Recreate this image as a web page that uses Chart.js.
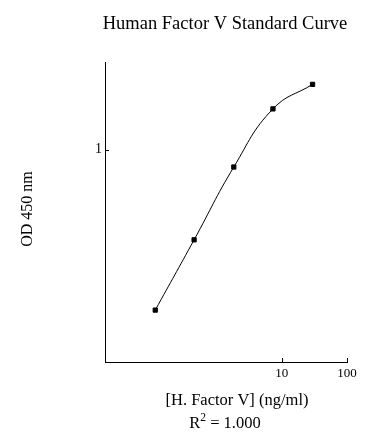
<!DOCTYPE html>
<html>
<head>
<meta charset="utf-8">
<title>Human Factor V Standard Curve</title>
<script src="https://cdn.jsdelivr.net/npm/chart.js@4/dist/chart.umd.min.js"></script>
<style>
    html, body { margin: 0; padding: 0; background: #fff; }
    canvas { display: block; }
</style>
</head>
<body>
<canvas id="curveChart" width="388" height="444"></canvas>
<script>
// Standard points (ng/ml vs OD 450 nm)
const concentrations = [0.114, 0.45, 1.83, 7.3, 29.6];
const odValues = [0.109, 0.288, 0.788, 1.76, 2.47];
const xTickValues = [10, 100];
const yTickValues = [1];

const chartTitle = 'Human Factor V Standard Curve';
const xTitle = '[H. Factor V] (ng/ml)';
const fitLabel = 'R';
const fitPower = '2';
const fitValue = ' = 1.000';
const yTitle = 'OD 450 nm';

const SERIF = "'Liberation Serif', 'Times New Roman', serif";
const TICK_LEN = 4;

// Tick marks point into the plot, like the original
const innerTicksPlugin = {
    id: 'innerTicks',
    afterDraw(chart) {
        const ctx = chart.ctx;
        const area = chart.chartArea;
        const xs = chart.scales.x;
        const ys = chart.scales.y;
        ctx.save();
        ctx.strokeStyle = '#000';
        ctx.lineWidth = 1;
        ctx.beginPath();
        xTickValues.forEach(v => {
            const px = Math.round(xs.getPixelForValue(v)) + 0.5;
            ctx.moveTo(px, area.bottom);
            ctx.lineTo(px, area.bottom - TICK_LEN);
        });
        yTickValues.forEach(v => {
            const py = Math.round(ys.getPixelForValue(v)) + 0.5;
            ctx.moveTo(area.left, py);
            ctx.lineTo(area.left + TICK_LEN, py);
        });
        ctx.stroke();
        ctx.restore();
    }
};

// Title and axis captions at fixed spots around the plot area
const captionPlugin = {
    id: 'captions',
    afterDraw(chart) {
        const ctx = chart.ctx;
        const area = chart.chartArea;
        ctx.save();
        ctx.fillStyle = '#000';
        ctx.textAlign = 'center';
        ctx.textBaseline = 'middle';

        ctx.font = `18.5px ${SERIF}`;
        ctx.fillText(chartTitle, 225, 24);

        ctx.font = `16.5px ${SERIF}`;
        ctx.fillText(xTitle, 237, area.bottom + 39);

        // R² line with a real superscript
        const bigFont = `16.5px ${SERIF}`;
        const smallFont = `11.5px ${SERIF}`;
        ctx.font = bigFont;
        const wR = ctx.measureText(fitLabel).width;
        const wV = ctx.measureText(fitValue).width;
        ctx.font = smallFont;
        const wP = ctx.measureText(fitPower).width;
        let x = 225 - (wR + wP + wV) / 2;
        const y = area.bottom + 62;
        ctx.textAlign = 'left';
        ctx.font = bigFont;
        ctx.fillText(fitLabel, x, y);
        x += wR;
        ctx.font = smallFont;
        ctx.fillText(fitPower, x, y - 6);
        x += wP;
        ctx.font = bigFont;
        ctx.fillText(fitValue, x, y);

        ctx.textAlign = 'center';
        ctx.font = `16px ${SERIF}`;
        ctx.translate(28, 209);
        ctx.rotate(-Math.PI / 2);
        ctx.fillText(yTitle, 0, 0);
        ctx.restore();
    }
};

function onlyTicks(values) {
    return scale => {
        scale.ticks = values.map(v => ({ value: v }));
    };
}

new Chart(document.getElementById('curveChart').getContext('2d'), {
    type: 'line',
    data: {
        datasets: [{
            data: concentrations.map((c, i) => ({ x: c, y: odValues[i] })),
            borderColor: '#000',
            borderWidth: 1,
            tension: 0.45,
            pointStyle: 'rect',
            pointRadius: 3,
            pointBorderWidth: 1,
            pointBackgroundColor: '#000',
            pointBorderColor: '#000'
        }]
    },
    options: {
        responsive: false,
        animation: false,
        devicePixelRatio: 1,
        layout: {
            padding: { left: 0, right: 41, top: 62, bottom: 0 }
        },
        plugins: {
            legend: { display: false },
            tooltip: { enabled: false }
        },
        scales: {
            x: {
                type: 'logarithmic',
                min: 0.0193,
                max: 100,
                afterBuildTicks: onlyTicks(xTickValues),
                afterFit: scale => { scale.height = 82; },
                border: { display: true, color: '#000', width: 1 },
                grid: { drawOnChartArea: false, drawTicks: false },
                ticks: {
                    color: '#000',
                    padding: 4,
                    maxRotation: 0,
                    autoSkip: false,
                    font: { family: SERIF, size: 13 },
                    callback: v => String(v)
                }
            },
            y: {
                type: 'logarithmic',
                min: 0.0532,
                max: 3.365,
                afterBuildTicks: onlyTicks(yTickValues),
                afterFit: scale => { scale.width = 105; },
                border: { display: true, color: '#000', width: 1 },
                grid: { drawOnChartArea: false, drawTicks: false },
                ticks: {
                    color: '#000',
                    padding: 3,
                    autoSkip: false,
                    font: { family: SERIF, size: 14 },
                    callback: v => String(v)
                }
            }
        }
    },
    plugins: [innerTicksPlugin, captionPlugin]
});
</script>
</body>
</html>
